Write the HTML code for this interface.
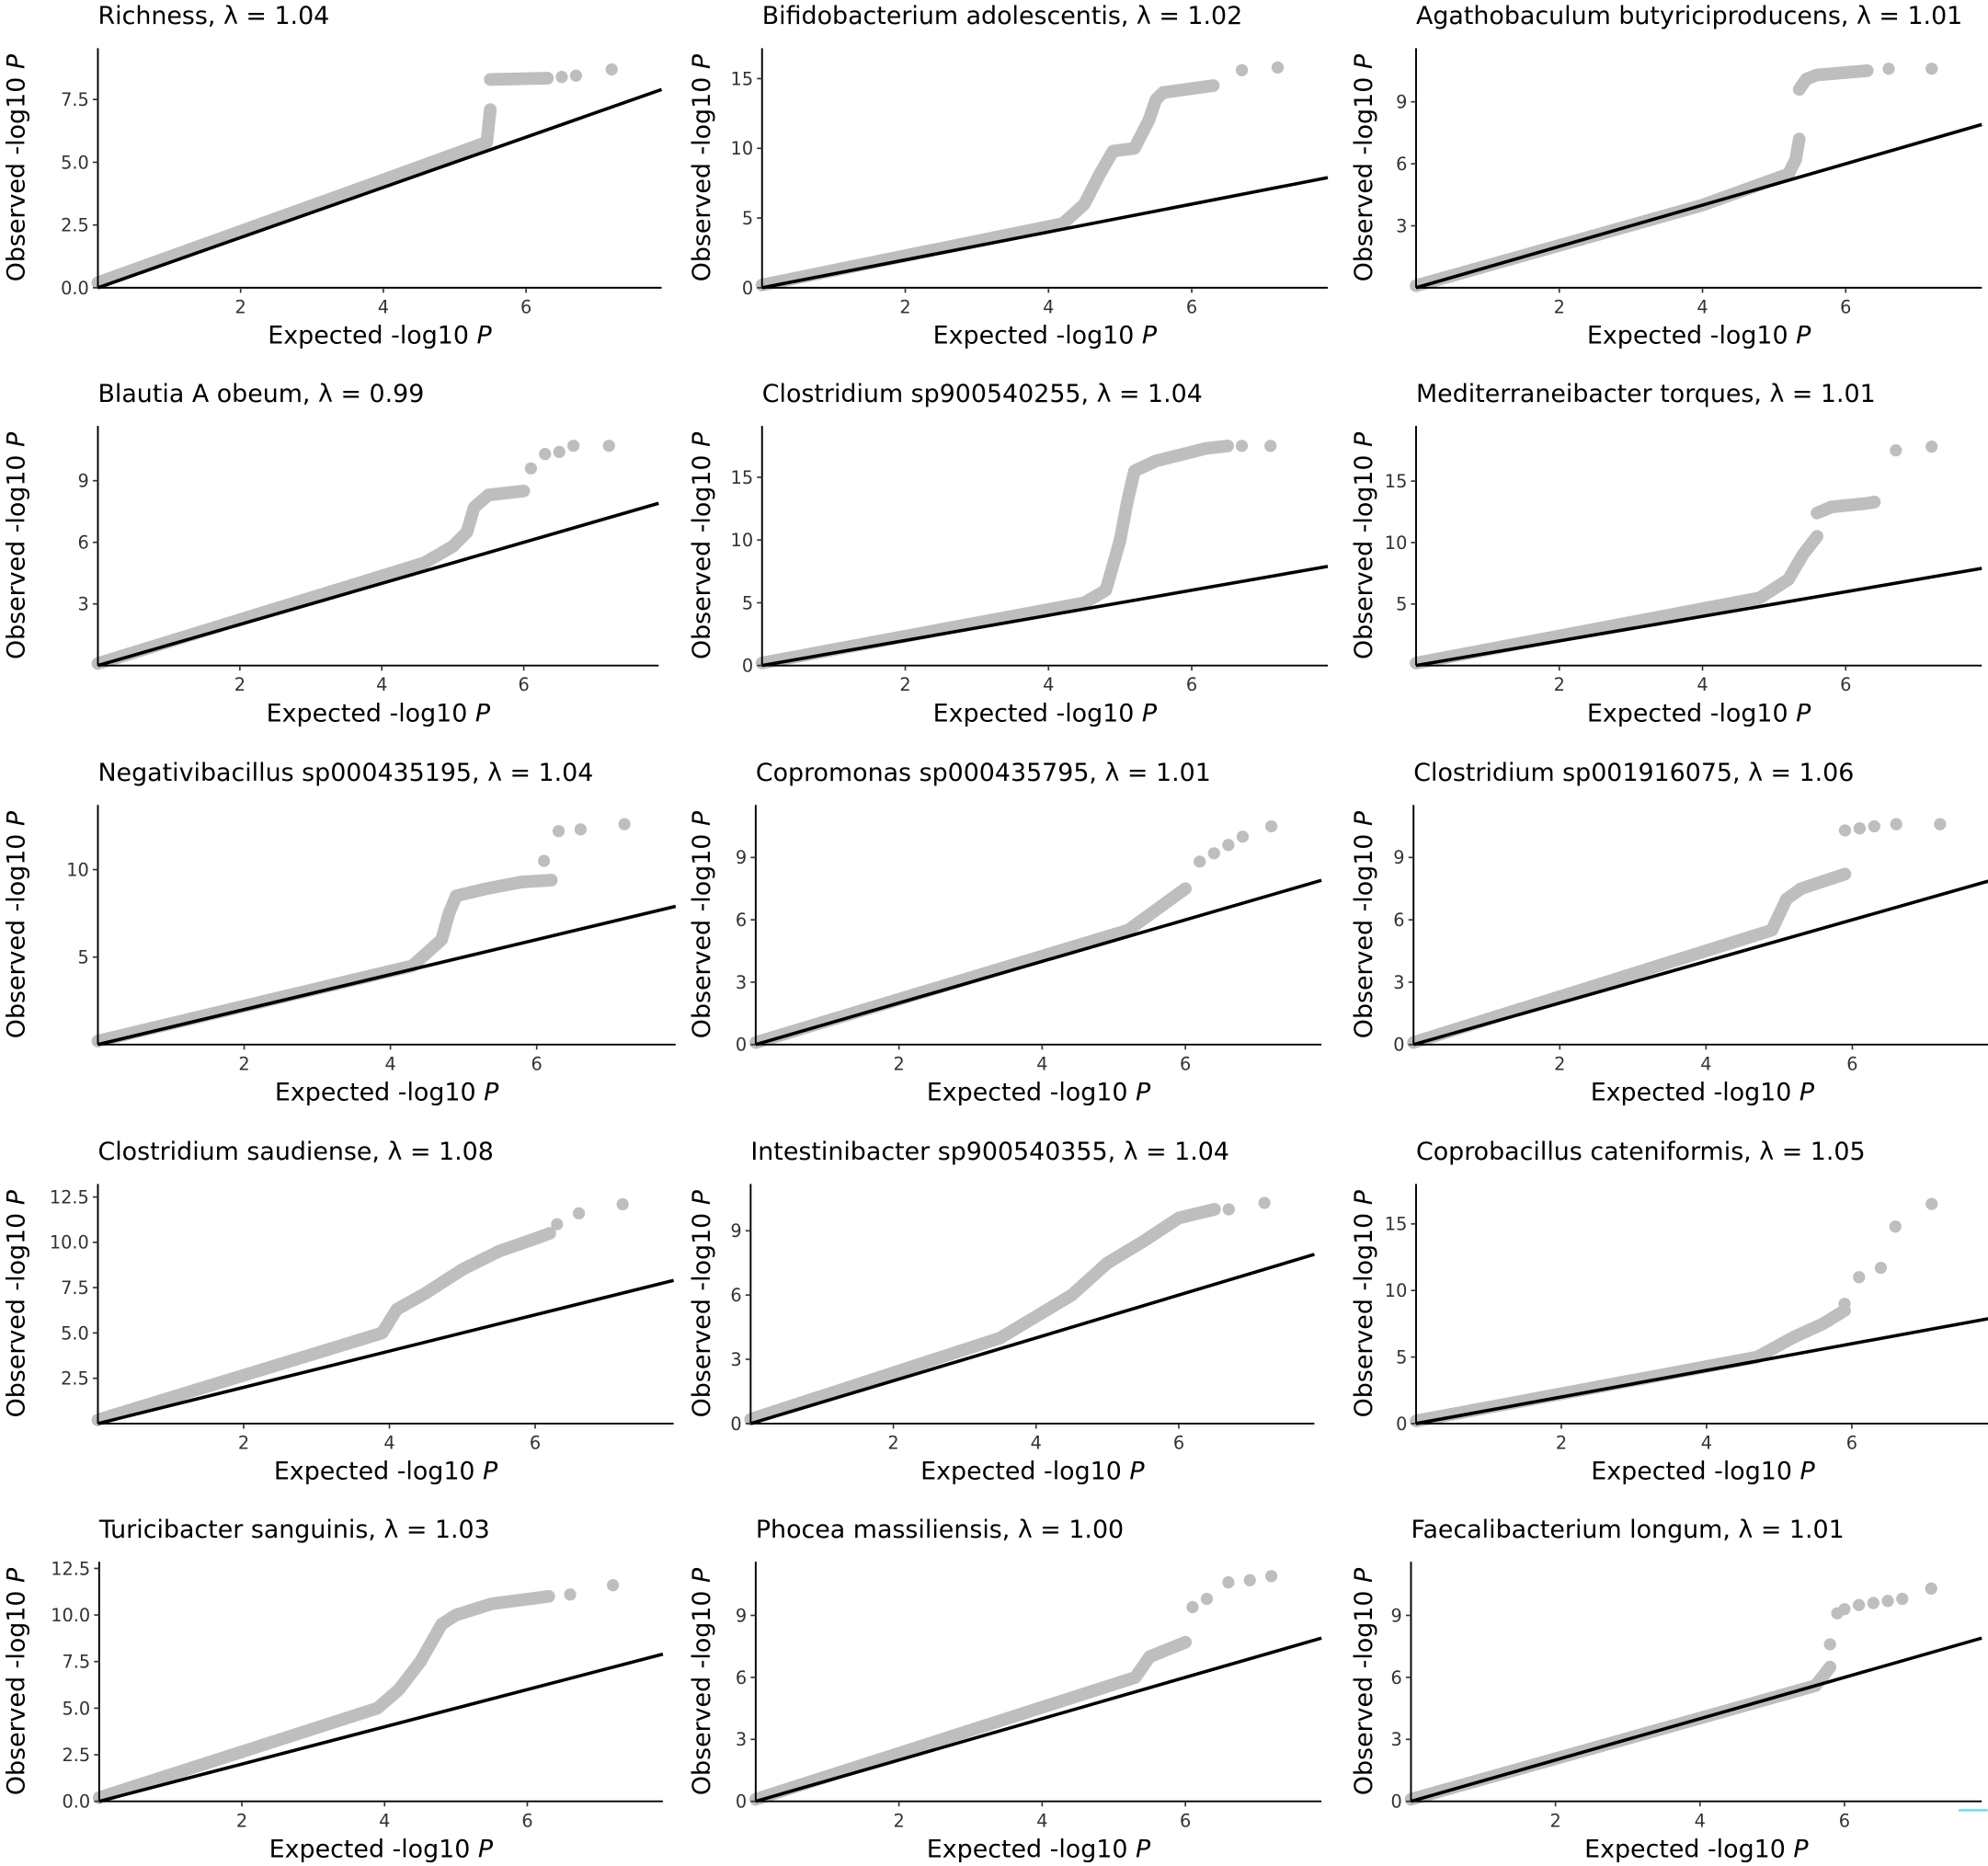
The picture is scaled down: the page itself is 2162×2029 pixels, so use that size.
<!DOCTYPE html>
<html><head><meta charset="utf-8"><style>
html,body{margin:0;padding:0;background:#fff}
svg{display:block}
text{font-family:"DejaVu Sans","Liberation Sans",sans-serif}
</style></head><body>
<svg id="s" width="2162" height="2029" viewBox="0 0 1568 1472" xmlns="http://www.w3.org/2000/svg"></svg>
<script>
const P=[
{t:"Richness",l:"1.04",x0:77,sx:56.3,b:227,sy:19.8,ticks:[0,2.5,5,7.5],fmt:1,
 c:[[0,0.2],[4,4.3],[5.45,5.8],[5.5,7.1]],d:[[5.5,8.3],[5.7,8.3],[5.9,8.32],[6.1,8.35],[6.3,8.35],[6.5,8.4],[6.7,8.45],[7.2,8.7]],cl:[[5.5,8.3],[6.3,8.35]]},
{t:"Bifidobacterium adolescentis",l:"1.02",x0:601,sx:56.5,b:227,sy:11,ticks:[0,5,10,15],
 c:[[0,0.2],[4.2,4.6],[4.5,6],[4.7,8],[4.9,9.8],[5.2,10],[5.4,12],[5.5,13.5],[5.6,14],[6.3,14.5]],d:[[6.7,15.6],[7.2,15.8]]},
{t:"Agathobaculum butyriciproducens",l:"1.01",x0:1117,sx:56.5,b:227,sy:16.3,ticks:[3,6,9],
 c:[[0,0.1],[4,4],[5.2,5.5],[5.3,6.2],[5.35,7.2]],d:[[6.6,10.6],[7.2,10.6]],cl:[[5.35,9.6],[5.45,10.1],[5.6,10.3],[6.3,10.5]]},
{t:"Blautia A obeum",l:"0.99",x0:77,sx:56,b:525,sy:16.2,ticks:[3,6,9],
 c:[[0,0.1],[4.6,5],[5,5.8],[5.2,6.5],[5.3,7.7],[5.5,8.3],[6.0,8.5]],d:[[6.1,9.6],[6.3,10.3],[6.5,10.4],[6.7,10.7],[7.2,10.7]]},
{t:"Clostridium sp900540255",l:"1.04",x0:601,sx:56.5,b:525,sy:9.9,ticks:[0,5,10,15],
 c:[[0,0.2],[4.5,5],[4.8,6],[4.9,8],[5,10],[5.1,13],[5.2,15.5],[5.5,16.3],[6.2,17.3],[6.5,17.5]],d:[[6.7,17.5],[7.1,17.5]]},
{t:"Mediterraneibacter torques",l:"1.01",x0:1117,sx:56.5,b:525,sy:9.7,ticks:[5,10,15],
 c:[[0,0.2],[4.8,5.5],[5.2,7],[5.4,9],[5.6,10.5]],d:[[6.7,17.5],[7.2,17.8]],cl:[[5.6,12.4],[5.8,12.9],[6.3,13.2],[6.4,13.3]]},
{t:"Negativibacillus sp000435195",l:"1.04",x0:77,sx:57.7,b:824,sy:13.8,ticks:[5,10],
 c:[[0,0.2],[4.3,4.5],[4.7,6],[4.8,7.5],[4.9,8.5],[5.3,8.9],[5.8,9.3],[6.2,9.4]],d:[[6.1,10.5],[6.3,12.2],[6.6,12.3],[7.2,12.6]]},
{t:"Copromonas sp000435795",l:"1.01",x0:596,sx:56.5,b:824,sy:16.4,ticks:[0,3,6,9],
 c:[[0,0.1],[5.2,5.5],[5.6,6.5],[6.0,7.5]],d:[[6.2,8.8],[6.4,9.2],[6.6,9.6],[6.8,10],[7.2,10.5]]},
{t:"Clostridium sp001916075",l:"1.06",x0:1115,sx:57.7,b:824,sy:16.4,ticks:[0,3,6,9],
 c:[[0,0.1],[4.9,5.5],[5.1,7],[5.3,7.5],[5.9,8.2]],d:[[5.9,10.3],[6.1,10.4],[6.3,10.5],[6.6,10.6],[7.2,10.6]]},
{t:"Clostridium saudiense",l:"1.08",x0:77,sx:57.5,b:1123,sy:14.3,ticks:[2.5,5,7.5,10,12.5],fmt:1,
 c:[[0,0.2],[3.9,5],[4.1,6.3],[4.5,7.2],[5,8.5],[5.5,9.5],[6.0,10.2],[6.2,10.5]],d:[[6.3,11],[6.6,11.6],[7.2,12.1]]},
{t:"Intestinibacter sp900540355",l:"1.04",x0:592,sx:56.3,b:1123,sy:16.9,ticks:[0,3,6,9],
 c:[[0,0.2],[3.5,4],[4.5,6],[5,7.5],[5.5,8.5],[6,9.6],[6.5,10]],d:[[6.7,10],[7.2,10.3]]},
{t:"Coprobacillus cateniformis",l:"1.05",x0:1117,sx:57.3,b:1123,sy:10.5,ticks:[0,5,10,15],
 c:[[0,0.2],[4.7,5],[5.2,6.5],[5.6,7.5],[5.9,8.5]],d:[[5.9,9],[6.1,11],[6.4,11.7],[6.6,14.8],[7.1,16.5]]},
{t:"Turicibacter sanguinis",l:"1.03",x0:78,sx:56.3,b:1421,sy:14.7,ticks:[0,2.5,5,7.5,10,12.5],fmt:1,
 c:[[0,0.2],[3.9,5],[4.2,6],[4.5,7.5],[4.8,9.5],[5,10],[5.5,10.6],[6.3,11]],d:[[6.6,11.1],[7.2,11.6]]},
{t:"Phocea massiliensis",l:"1.00",x0:596,sx:56.5,b:1421,sy:16.3,ticks:[0,3,6,9],
 c:[[0,0.1],[5.3,6],[5.5,7],[6,7.7]],d:[[6.1,9.4],[6.3,9.8],[6.6,10.6],[6.9,10.7],[7.2,10.9]]},
{t:"Faecalibacterium longum",l:"1.01",x0:1113,sx:57,b:1421,sy:16.3,ticks:[0,3,6,9],
 c:[[0,0.1],[5.6,5.6],[5.8,6.5]],d:[[5.8,7.6],[5.9,9.1],[6.0,9.3],[6.2,9.5],[6.4,9.6],[6.6,9.7],[6.8,9.8],[7.2,10.3]]}
];
let h='';
P.forEach((p,i)=>{
 const X=e=>p.x0+e*p.sx, Y=o=>p.b-o*p.sy, top=p.b-189, right=p.x0+7.9*p.sx;
 h+=`<text x="${p.x0}" y="${top-19}" font-size="19.5">${p.t}, λ = ${p.l}</text>`;
 const cy=(top+p.b)/2, lx=[19,560,1082][i%3];
 h+=`<text transform="translate(${lx},${cy}) rotate(-90)" text-anchor="middle" font-size="19.5">Observed -log10 <tspan font-style="italic">P</tspan></text>`;
 h+=`<text x="${(p.x0+right)/2}" y="${p.b+44}" text-anchor="middle" font-size="19.5">Expected -log10 <tspan font-style="italic">P</tspan></text>`;
 const pts=p.c.map(q=>X(q[0]).toFixed(1)+','+Y(q[1]).toFixed(1)).join(' ');
 h+=`<polyline points="${pts}" fill="none" stroke="#bebebe" stroke-width="10" stroke-linejoin="round" stroke-linecap="round"/>`;
 if(p.cl){const c2=p.cl.map(q=>X(q[0]).toFixed(1)+','+Y(q[1]).toFixed(1)).join(' ');
  h+=`<polyline points="${c2}" fill="none" stroke="#bebebe" stroke-width="10" stroke-linejoin="round" stroke-linecap="round"/>`;}
 for(const q of p.d) h+=`<circle cx="${X(q[0])}" cy="${Y(q[1])}" r="4.8" fill="#bebebe"/>`;
 h+=`<line x1="${X(0)}" y1="${Y(0)}" x2="${right}" y2="${Y(7.9)}" stroke="#000" stroke-width="2.6"/>`;
 h+=`<line x1="${p.x0}" y1="${top}" x2="${p.x0}" y2="${p.b}" stroke="#000" stroke-width="1.4"/>`;
 h+=`<line x1="${p.x0}" y1="${p.b}" x2="${right}" y2="${p.b}" stroke="#000" stroke-width="1.4"/>`;
 for(const v of [2,4,6]){h+=`<line x1="${X(v)}" y1="${p.b}" x2="${X(v)}" y2="${p.b+4}" stroke="#333" stroke-width="1.2"/><text x="${X(v)}" y="${p.b+20}" text-anchor="middle" font-size="14" fill="#333">${v}</text>`;}
 for(const v of p.ticks){h+=`<line x1="${p.x0-4}" y1="${Y(v)}" x2="${p.x0}" y2="${Y(v)}" stroke="#333" stroke-width="1.2"/><text x="${p.x0-7}" y="${Y(v)+5}" text-anchor="end" font-size="14" fill="#333">${p.fmt?v.toFixed(1):v}</text>`;}
});
h+=`<line x1="1545" y1="1428" x2="1568" y2="1428" stroke="#7fdfe8" stroke-width="2"/>`;
document.getElementById('s').innerHTML=h;
</script>
</body></html>
